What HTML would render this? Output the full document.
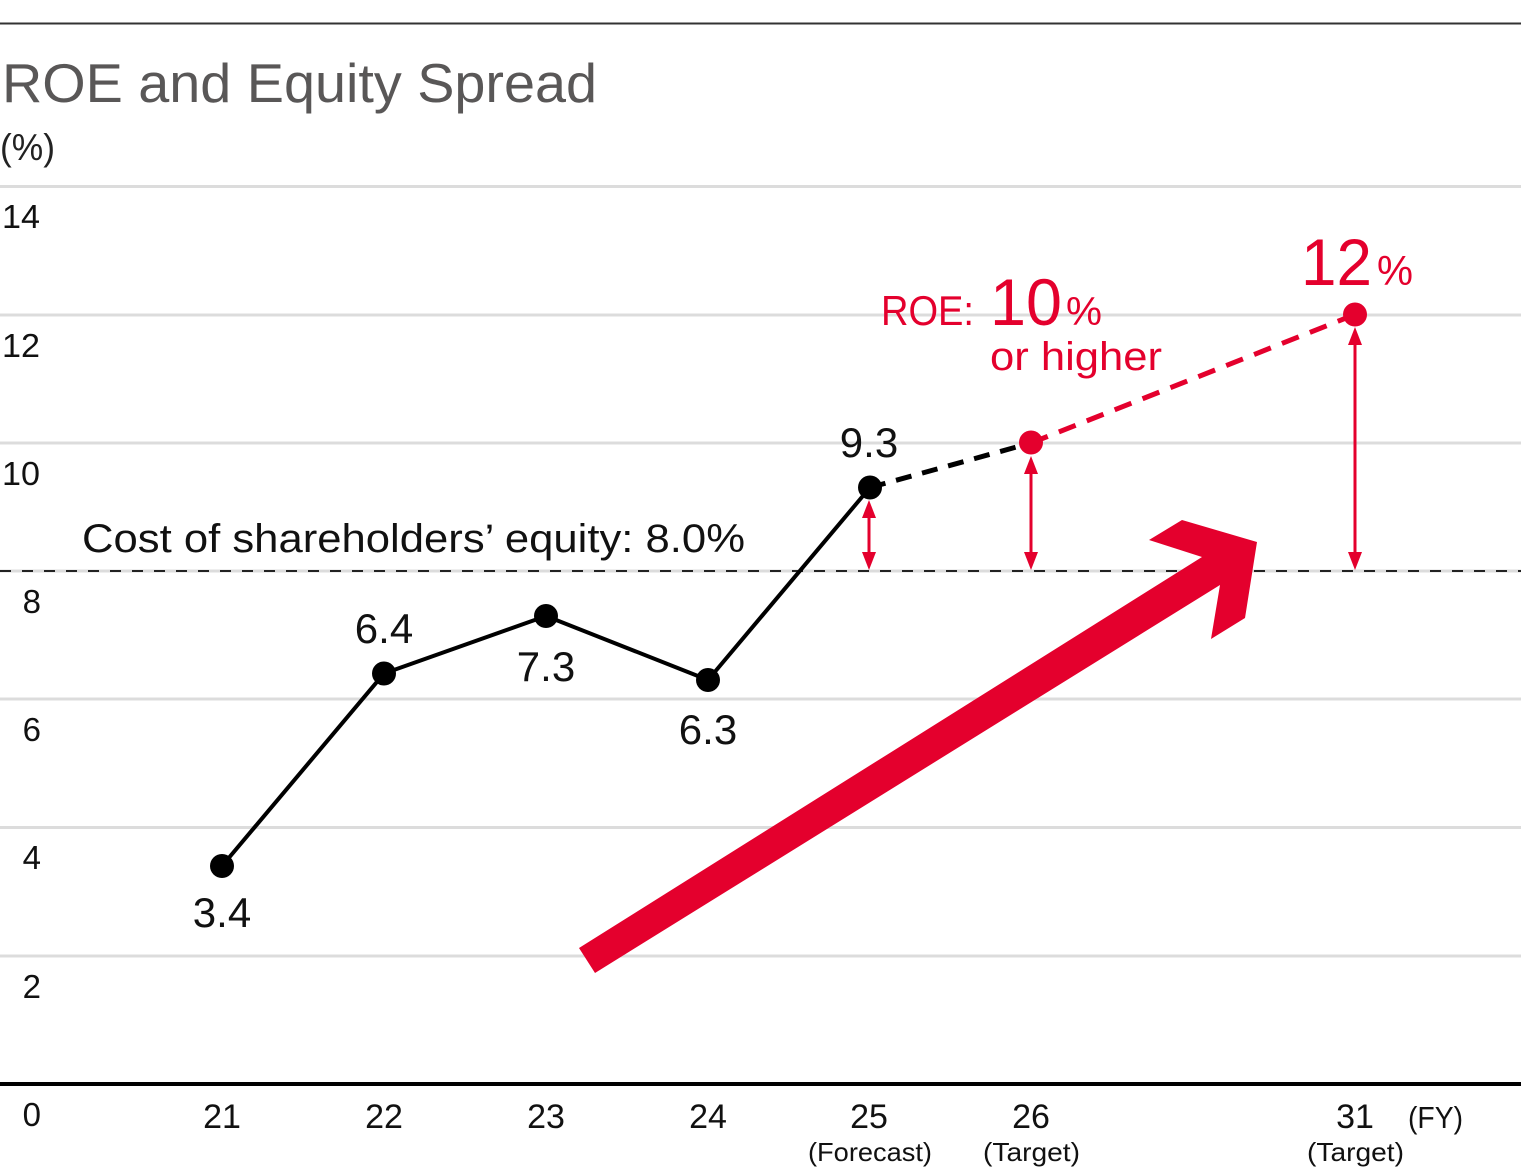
<!DOCTYPE html>
<html>
<head>
<meta charset="utf-8">
<style>
  html, body { margin: 0; padding: 0; background: #ffffff; }
  svg { display: block; }
  text { font-family: "Liberation Sans", sans-serif; }
</style>
</head>
<body>
<svg width="1521" height="1169" viewBox="0 0 1521 1169" xmlns="http://www.w3.org/2000/svg">
  <rect x="0" y="0" width="1521" height="1169" fill="#ffffff"/>

  <!-- top rule -->
  <line x1="0" y1="23.5" x2="1521" y2="23.5" stroke="#333333" stroke-width="2"/>

  <!-- title -->
  <text x="2" y="102" font-size="55" fill="#595757" textLength="595" lengthAdjust="spacingAndGlyphs">ROE and Equity Spread</text>
  <text x="0" y="160" font-size="37" fill="#222222" textLength="55" lengthAdjust="spacingAndGlyphs">(%)</text>

  <!-- gridlines -->
  <g stroke="#dcdcdc" stroke-width="3">
    <line x1="0" y1="186.5" x2="1521" y2="186.5"/>
    <line x1="0" y1="315" x2="1521" y2="315"/>
    <line x1="0" y1="443" x2="1521" y2="443"/>
    <line x1="0" y1="571" x2="1521" y2="571"/>
    <line x1="0" y1="699" x2="1521" y2="699"/>
    <line x1="0" y1="827.5" x2="1521" y2="827.5"/>
    <line x1="0" y1="956" x2="1521" y2="956"/>
  </g>
  <!-- cost of equity dashed line -->
  <line x1="0" y1="571" x2="1521" y2="571" stroke="#222222" stroke-width="2" stroke-dasharray="11 11"/>

  <!-- x axis -->
  <line x1="0" y1="1084" x2="1521" y2="1084" stroke="#000000" stroke-width="4"/>

  <!-- y labels -->
  <g font-size="33" fill="#111111">
    <text x="2" y="228" textLength="38" lengthAdjust="spacingAndGlyphs">14</text>
    <text x="2" y="357" textLength="38" lengthAdjust="spacingAndGlyphs">12</text>
    <text x="2" y="485" textLength="38" lengthAdjust="spacingAndGlyphs">10</text>
  </g>
  <g font-size="33" fill="#111111" text-anchor="end">
    <text x="41" y="613">8</text>
    <text x="41" y="741">6</text>
    <text x="41" y="869">4</text>
    <text x="41" y="998">2</text>
    <text x="41" y="1126">0</text>
  </g>

  <!-- x labels -->
  <g font-size="34" fill="#111111" text-anchor="middle">
    <text x="222" y="1128">21</text>
    <text x="384" y="1128">22</text>
    <text x="546" y="1128">23</text>
    <text x="708" y="1128">24</text>
    <text x="869" y="1128">25</text>
    <text x="1031" y="1128">26</text>
    <text x="1355" y="1128">31</text>
  </g>
  <text x="1408" y="1128" font-size="31" fill="#111111" textLength="55" lengthAdjust="spacingAndGlyphs">(FY)</text>
  <g font-size="26" fill="#111111">
    <text x="808" y="1161" textLength="124" lengthAdjust="spacingAndGlyphs">(Forecast)</text>
    <text x="983" y="1161" textLength="97" lengthAdjust="spacingAndGlyphs">(Target)</text>
    <text x="1307" y="1161" textLength="97" lengthAdjust="spacingAndGlyphs">(Target)</text>
  </g>

  <!-- big red arrow -->
  <polygon points="579,948 1202,557 1149,540 1182,520 1257,542 1245,618 1211,639 1220,585 595,973" fill="#e4002d"/>

  <!-- cost of equity label -->
  <text x="82" y="552" font-size="40" fill="#111111" textLength="663" lengthAdjust="spacingAndGlyphs">Cost of shareholders’ equity: 8.0%</text>

  <!-- red double arrows (spread) -->
  <g fill="#e4002d" stroke="none">
    <rect x="867.5" y="514" width="3" height="42"/>
    <polygon points="869,500 876,518 862,518"/>
    <polygon points="869,570 876,552 862,552"/>
    <rect x="1029.5" y="470" width="3" height="86"/>
    <polygon points="1031,456 1038,474 1024,474"/>
    <polygon points="1031,570 1038,552 1024,552"/>
    <rect x="1353.5" y="341" width="3" height="215"/>
    <polygon points="1355,327 1362,345 1348,345"/>
    <polygon points="1355,570 1362,552 1348,552"/>
  </g>

  <!-- actual ROE line -->
  <polyline points="222,866 384,673.5 546,616 708,680 870,487.5" fill="none" stroke="#000000" stroke-width="4" stroke-linejoin="round"/>
  <!-- forecast -> target dashed -->
  <line x1="870" y1="487.5" x2="1031" y2="443" stroke="#000000" stroke-width="5" stroke-dasharray="16 11"/>
  <line x1="1031" y1="443" x2="1355" y2="314.5" stroke="#e4002d" stroke-width="5" stroke-dasharray="18 12"/>

  <!-- dots -->
  <g fill="#000000">
    <circle cx="222" cy="866" r="12"/>
    <circle cx="384" cy="673.5" r="12"/>
    <circle cx="546" cy="616" r="12"/>
    <circle cx="708" cy="680" r="12"/>
    <circle cx="870" cy="487.5" r="12"/>
  </g>
  <g fill="#e4002d">
    <circle cx="1031" cy="442.5" r="12"/>
    <circle cx="1355" cy="314.5" r="12"/>
  </g>

  <!-- data labels -->
  <g font-size="42" fill="#111111" text-anchor="middle">
    <text x="222" y="927">3.4</text>
    <text x="384" y="643">6.4</text>
    <text x="546" y="681">7.3</text>
    <text x="708" y="744">6.3</text>
    <text x="869" y="457">9.3</text>
  </g>

  <!-- red target labels -->
  <g fill="#e4002d">
    <text x="881" y="325" font-size="42" textLength="93" lengthAdjust="spacingAndGlyphs">ROE:</text>
    <text x="990" y="325" font-size="66" textLength="72" lengthAdjust="spacingAndGlyphs">10</text>
    <text x="1066" y="325" font-size="40" textLength="36" lengthAdjust="spacingAndGlyphs">%</text>
    <text x="990" y="370" font-size="40" textLength="172" lengthAdjust="spacingAndGlyphs">or higher</text>
    <text x="1301" y="285" font-size="66" textLength="71" lengthAdjust="spacingAndGlyphs">12</text>
    <text x="1377" y="285" font-size="42" textLength="36" lengthAdjust="spacingAndGlyphs">%</text>
  </g>
</svg>
</body>
</html>
